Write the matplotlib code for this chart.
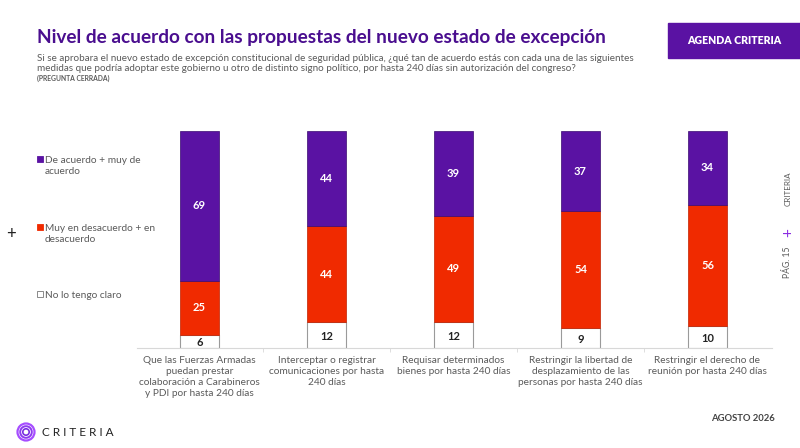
import matplotlib.pyplot as plt
from matplotlib.patches import Rectangle, Circle
import numpy as np

categories = [
    "Que las Fuerzas Armadas\npuedan prestar\ncolaboración a Carabineros\ny PDI por hasta 240 días",
    "Interceptar o registrar\ncomunicaciones por hasta\n240 días",
    "Requisar determinados\nbienes por hasta 240 días",
    "Restringir la libertad de\ndesplazamiento de las\npersonas por hasta 240 días",
    "Restringir el derecho de\nreunión por hasta 240 días",
]
no_claro = [6, 12, 12, 9, 10]
desacuerdo = [25, 44, 49, 54, 56]
acuerdo = [69, 44, 39, 37, 34]

series_names = ["De acuerdo + muy de\nacuerdo", "Muy en desacuerdo + en\ndesacuerdo", "No lo tengo claro"]

PURPLE = "#5A12A3"
RED = "#F02A00"
GREY = "#5a5a5a"
TITLE = "#4A0E8F"

plt.rcParams['font.family'] = ['Lato', 'DejaVu Sans']

fig = plt.figure(figsize=(8, 4.48), dpi=100)
ax = fig.add_axes([137 / 800, 100 / 448, 635 / 800, 217 / 448])

x = np.arange(len(categories))
w = 0.311
ax.bar(x, no_claro, w, color="white", edgecolor="#9a9a9a", linewidth=0.8)
ax.bar(x, desacuerdo, w, bottom=no_claro, color=RED, edgecolor="#c02000", linewidth=0.5)
bot2 = np.array(no_claro) + np.array(desacuerdo)
ax.bar(x, acuerdo, w, bottom=bot2, color=PURPLE, edgecolor="#3a0a70", linewidth=0.5)

for i in range(len(x)):
    ax.text(x[i], no_claro[i] / 2 - 0.5, str(no_claro[i]), ha="center", va="center",
            fontsize=8, color="#222222", fontweight="bold")
    ax.text(x[i], no_claro[i] + desacuerdo[i] / 2, str(desacuerdo[i]), ha="center", va="center",
            fontsize=8, color="white", fontweight="bold")
    ax.text(x[i], bot2[i] + acuerdo[i] / 2, str(acuerdo[i]), ha="center", va="center",
            fontsize=8, color="white", fontweight="bold")

ax.set_xlim(-0.492, 4.508)
ax.set_ylim(0, 100)
for s in ["top", "right", "left"]:
    ax.spines[s].set_visible(False)
ax.spines["bottom"].set_color("#d8d8d8")
ax.set_yticks([])
ax.set_xticks(x)
ax.set_xticklabels(categories, fontsize=7.3, color=GREY, linespacing=1.25)
ax.tick_params(axis="x", length=0, pad=6)
ax.set_xticks(x[:-1] + 0.5, minor=True)
ax.tick_params(axis="x", which="minor", length=3, color="#d8d8d8")

# title and subtitle
fig.text(37 / 800, 1 - 37 / 448, "Nivel de acuerdo con las propuestas del nuevo estado de excepción",
         fontsize=13.7, fontweight="bold", color=TITLE, va="center")
fig.text(37 / 800, 1 - 63.5 / 448,
         "Si se aprobara el nuevo estado de excepción constitucional de seguridad pública, ¿qué tan de acuerdo estás con cada una de las siguientes\n"
         "medidas que podría adoptar este gobierno u otro de distinto signo político, por hasta 240 días sin autorización del congreso?",
         fontsize=7.15, color=GREY, va="center", linespacing=1.25)
fig.text(37 / 800, 1 - 78 / 448, "(PREGUNTA CERRADA)", fontsize=4.9, fontweight="bold", color=GREY, va="center")

# header box
fig.patches.append(Rectangle((668 / 800, 1 - 58 / 448), 132 / 800, 35 / 448,
                             transform=fig.transFigure, color=PURPLE, zorder=0))
fig.text(734 / 800, 1 - 41 / 448, "AGENDA CRITERIA", fontsize=7.6, fontweight="heavy",
         color="white", ha="center", va="center")

# legend
leg_top = [159, 227, 294]
leg_cols = [PURPLE, RED, "white"]
for name, first, c in zip(series_names, leg_top, leg_cols):
    fig.patches.append(Rectangle((37 / 800, 1 - (first + 3) / 448), 6 / 800, 6 / 448,
                                 transform=fig.transFigure, facecolor=c,
                                 edgecolor="#777777" if c == "white" else c, linewidth=0.6))
    fig.text(45 / 800, 1 - (first - 3) / 448, name, fontsize=7.3, color=GREY, va="top",
             linespacing=1.3)

fig.text(11 / 800, 1 - 234 / 448, "+", fontsize=12, color="#222222", ha="center", va="center")

# right side vertical footer
fig.text(788 / 800, 1 - 189 / 448, "CRITERIA", fontsize=5.8, color=GREY, rotation=90,
         ha="center", va="center")
fig.text(788 / 800, 1 - 233 / 448, "+", fontsize=11, color="#8a2be2", rotation=90,
         ha="center", va="center")
fig.text(788 / 800, 1 - 262 / 448, "PÁG. 15", fontsize=6.2, color=GREY, rotation=90,
         ha="center", va="center")

fig.text(775 / 800, 1 - 418 / 448, "AGOSTO 2026", fontsize=6.8, fontweight="bold",
         color="#444444", ha="right", va="center")

# logo
lax = fig.add_axes([15 / 800, 1 - 443 / 448, 22 / 800, 22 / 448])
lax.set_xlim(-11, 11)
lax.set_ylim(-11, 11)
lax.set_aspect("equal")
lax.axis("off")
for r, lw, col in [(8.5, 1.6, "#a64dff"), (5.8, 1.4, "#8e3cf0"), (3.2, 1.2, "#7a2fe0")]:
    lax.add_patch(Circle((0, 0), r, fill=False, edgecolor=col, linewidth=lw))
fig.text(42 / 800, 1 - 432 / 448, "C R I T E R I A", fontsize=8.5, color="#222222", va="center")

fig.savefig("out.png", dpi=100)
